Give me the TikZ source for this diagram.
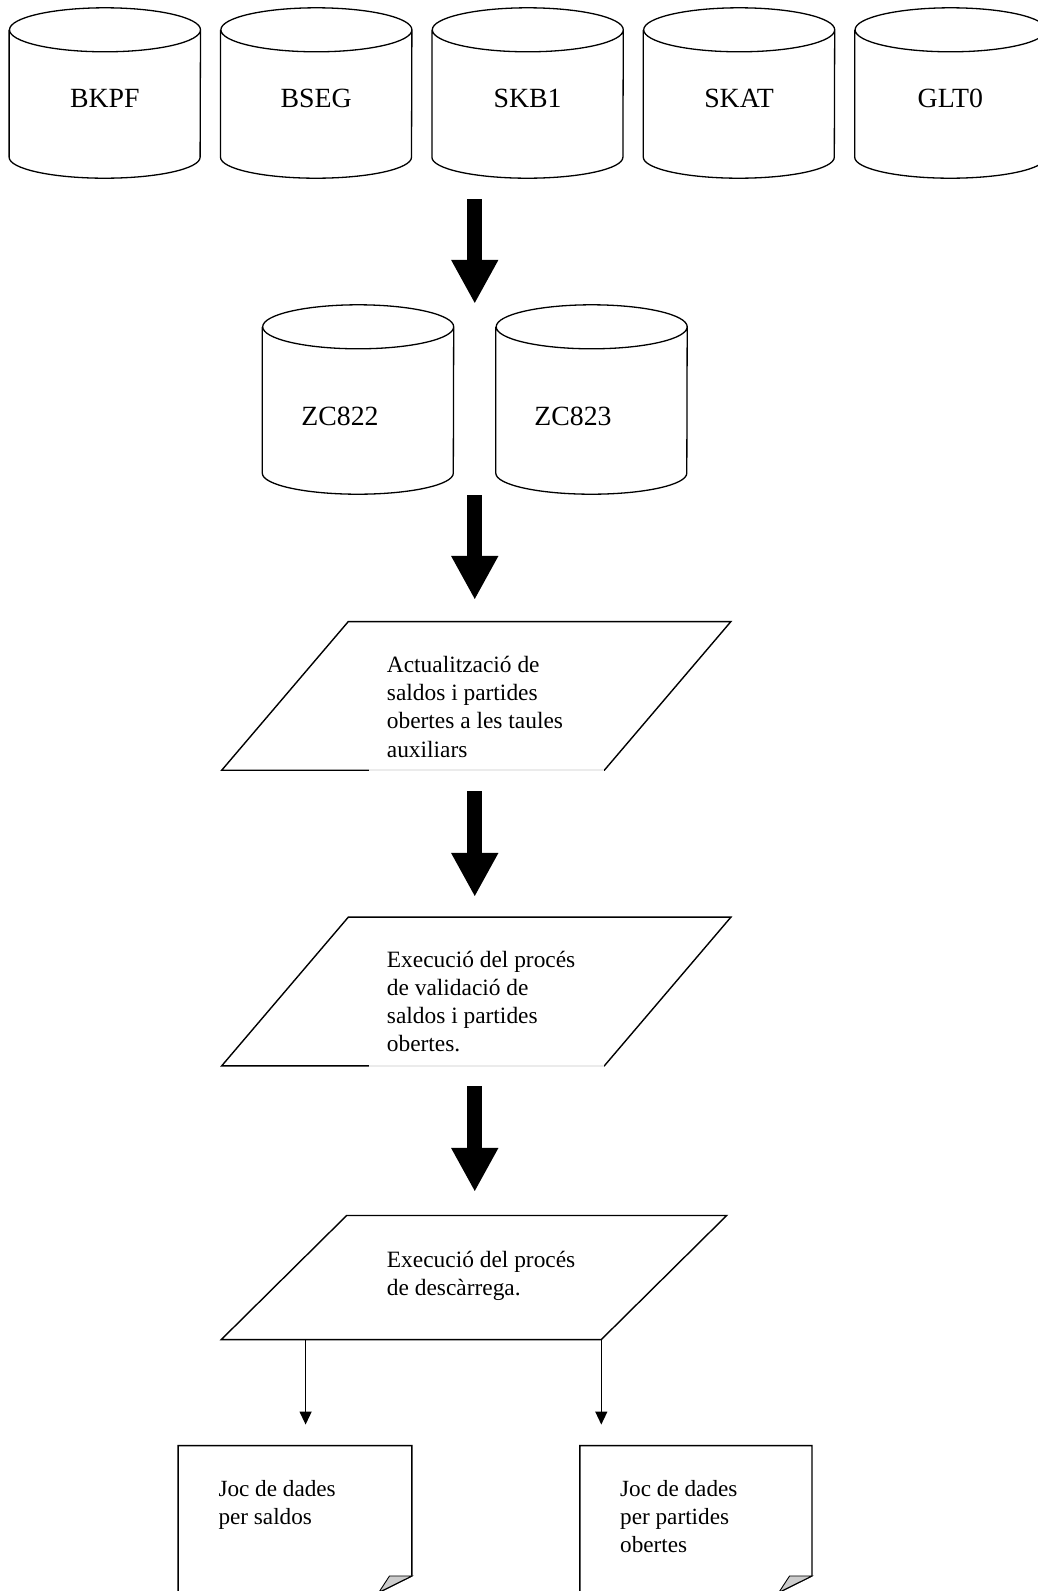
\documentclass[tikz,border=0pt]{standalone}
\usepackage{fontspec}
\setmainfont{Liberation Serif}
\usetikzlibrary{arrows.meta,calc}

\tikzset{
  dbcyl/.style={rectangle, inner sep=0pt, minimum width=191pt, minimum height=170pt},
  dbtext/.style={font=\fontsize{27.8}{33}\selectfont, yshift=-5.5pt},
  cylline/.style={line width=1.3pt},
  procbox/.style={rectangle, inner sep=0pt, minimum width=508.8pt, minimum height=148.3pt},
  procline/.style={line width=1.4pt},
  proctext/.style={font=\fontsize{23.4}{28.3}\selectfont, align=left, anchor=base west, inner sep=0pt},
  doctext/.style={proctext, font=\fontsize{23.2}{28}\selectfont},
  docpage/.style={rectangle, inner sep=0pt, minimum width=233.4pt, minimum height=148.3pt},
  docline/.style={line width=1.4pt},
  fold/.style={fill=black!20, draw=black, line width=0.9pt},
  fatarrow/.style={line width=15pt, -{Triangle[length=44pt,width=44pt]}},
  thinarrow/.style={line width=1.3pt, -{Triangle[length=13pt,width=12pt]}},
  faint/.style={draw=black!8, line width=1.8pt},
}

\begin{document}
\begin{tikzpicture}[x=1pt, y=-1pt]
\useasboundingbox (0,0) rectangle (1037,1591);

% SAP source tables
\node[dbcyl, label={[dbtext]center:BKPF}] (bkpf) at (104.8,93) {};
\node[dbcyl, label={[dbtext]center:BSEG}] (bseg) at (316.2,93) {};
\node[dbcyl, label={[dbtext]center:SKB1}] (skb1) at (527.6,93) {};
\node[dbcyl, label={[dbtext]center:SKAT}] (skat) at (739,93) {};
\node[dbcyl, label={[dbtext]center:GLT0}] (glt0) at (950.4,93) {};

% auxiliary tables
\node[dbcyl, minimum height=189pt, label={[dbtext, xshift=-18pt, yshift=-11pt]center:ZC822}] (zc822) at (358,399.5) {};
\node[dbcyl, minimum height=189pt, label={[dbtext, xshift=-18.5pt, yshift=-11pt]center:ZC823}] (zc823) at (591.5,399.5) {};

\foreach \c in {bkpf,bseg,skb1,skat,glt0,zc822,zc823}
  \draw[cylline] ([yshift=-22pt]\c.north west) -- ([yshift=21pt]\c.south west)
    arc[start angle=180, end angle=360, x radius=95.5pt, y radius=21pt]
    -- ([yshift=-22pt]\c.north east)
    arc[start angle=0, end angle=360, x radius=95.5pt, y radius=22pt];

% processes
\node[procbox] (act) at (476.3,695.9) {};
\node[procbox] (val) at (476.3,991.5) {};
\node[procbox, minimum width=505pt, minimum height=123.7pt] (desc) at (474,1277.5) {};

\foreach \p/\s in {act/126.6, val/126.6, desc/125.4}
  \draw[procline] (\p.south west) -- ([xshift=-\s pt]\p.south east) -- (\p.north east)
    -- ([xshift=\s pt]\p.north west) -- cycle;

\draw[faint] ([xshift=147.4pt]act.south west) -- ([xshift=-126.6pt]act.south east);
\draw[faint] ([xshift=147.4pt]val.south west) -- ([xshift=-126.6pt]val.south east);

% text nodes sit on the baseline of their last line
\node[proctext] (acttxt) at (386.7,757) {Actualització de\\saldos i partides\\obertes a les taules\\auxiliars};
\node[proctext] (valtxt) at (386.7,1051.9) {Execució del procés\\de validació de\\saldos i partides\\obertes.};
\node[proctext] (desctxt) at (386.7,1295.3) {Execució del procés\\de descàrrega.};

% output files
\node[docpage] (dsal) at (295,1519.9) {};
\node[docpage, minimum width=231.7pt] (dpo) at (695.9,1519.9) {};

\foreach \d in {dsal,dpo} {
  \draw[docline] (\d.south west) |- (\d.north east) -- ([yshift=18.3pt]\d.south east)
    -- ([xshift=-36.6pt]\d.south east) -- cycle;
  \filldraw[fold] ([xshift=-22.4pt,yshift=18.3pt]\d.south east) -- ([yshift=18.3pt]\d.south east)
    -- ([xshift=-33pt,yshift=2pt]\d.south east) -- cycle;
}

\node[doctext] (dsaltxt) at (218.3,1524.7) {Joc de dades\\per saldos};
\node[doctext] (dpotxt) at (620,1552.7) {Joc de dades\\per partides\\obertes};

% flow
\coordinate (flow) at ($(zc822)!.5!(zc823)$);
\draw[fatarrow, shorten <=21pt, shorten >=1pt] (flow |- skb1.south) -- (flow |- zc822.north);
\draw[fatarrow, shorten <=1pt, shorten >=21.7pt] (flow |- zc822.south) -- (flow |- act.north);
\draw[fatarrow, shorten <=21pt, shorten >=20.3pt] (flow |- act.south) -- (flow |- val.north);
\draw[fatarrow, shorten <=20.3pt, shorten >=23.6pt] (flow |- val.south) -- (flow |- desc.north);

\coordinate (lsplit) at ([xshift=84.3pt]desc.south west);
\coordinate (rsplit) at ([xshift=-125.4pt]desc.south east);
\draw[thinarrow, shorten >=21pt] (lsplit) -- (lsplit |- dsal.north);
\draw[thinarrow, shorten >=21pt] (rsplit) -- (rsplit |- dpo.north);

\end{tikzpicture}
\end{document}
